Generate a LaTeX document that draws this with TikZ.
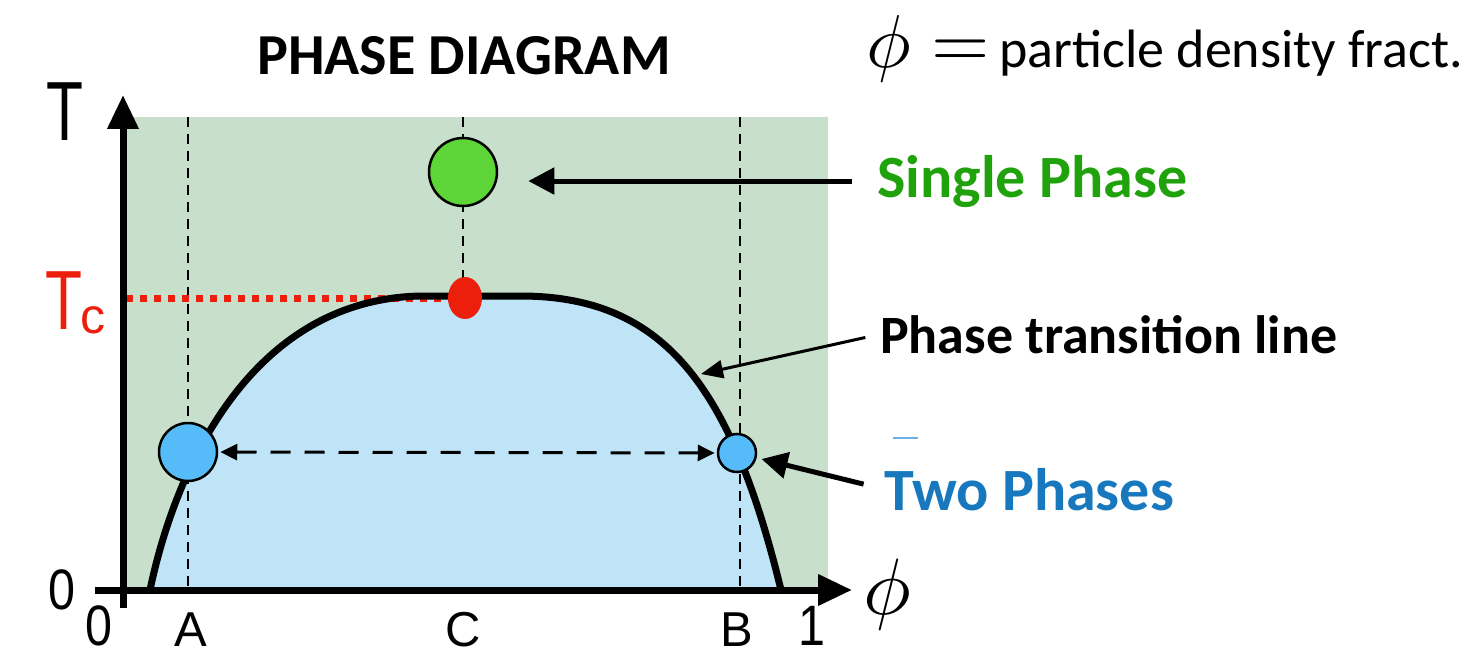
\documentclass[tikz,border=0pt]{standalone}
\usepackage{fontspec}
\setmainfont{Carlito}
\newfontfamily\arial{Liberation Sans}
\usetikzlibrary{arrows.meta,calc,shapes.geometric}
\definecolor{bggreen}{RGB}{200,223,203}
\definecolor{fillblue}{RGB}{191,228,248}
\definecolor{circblue}{RGB}{85,187,249}
\definecolor{circgreen}{RGB}{93,213,54}
\definecolor{dotred}{RGB}{236,30,12}
\definecolor{txtgreen}{RGB}{31,162,11}
\definecolor{txtblue}{RGB}{24,120,190}
\definecolor{faintblue}{RGB}{110,175,225}
\begin{document}
\begin{tikzpicture}[x=1pt,y=-1pt,
  axis/.style={line width=7pt,-{Triangle[length=34pt,width=30pt]}},
  guide/.style={line width=1.8pt,dash pattern=on 10pt off 7pt},
  callout/.style={line width=5pt,-{Triangle[length=26pt,width=26pt]}},
  lbl/.style={font=\fontsize{60}{60}\selectfont\bfseries, anchor=base west, inner sep=0pt},
  ax/.style={font=\arial\fontsize{49}{49}\selectfont, inner sep=0pt},
  axbig/.style={font=\arial\fontsize{57}{57}\selectfont, inner sep=0pt},
  ball/.style={circle, draw=black, line width=2.5pt, inner sep=0pt},
]
\useasboundingbox (0,0) rectangle (1481,658);
% phase boundary path
\def\boundary{(150,590) .. controls (175,470) and (250,300) .. (420,296) -- (520,296) .. controls (660,296) and (730,380) .. (781,590)}
% background
\fill[bggreen] (126,117) rectangle (828,590);
\fill[fillblue] \boundary -- cycle;
% guides
\coordinate (gAtop) at (188,117); \coordinate (gAbot) at (188,590);
\coordinate (gBtop) at (740,117); \coordinate (gBbot) at (740,590);
\coordinate (gCtop) at (463,117); \coordinate (gCbot) at (463,292);
\draw[guide] (gAtop) -- (gAbot);
\draw[guide] (gBtop) -- (gBbot);
\draw[guide] (gCtop) -- (gCbot);
% Tc dotted line
\coordinate (tcL) at (126,298);
\coordinate (tcR) at (458,298);
\draw[dotred, line width=7pt, dash pattern=on 7pt off 7pt] (tcL) -- (tcR);
% curve
\draw[line width=7pt] \boundary;
% axes
\coordinate (yB) at (123,608); \coordinate (yT) at (123,95);
\coordinate (xL) at (95,590); \coordinate (xR) at (852,590);
\draw[axis] (yB) -- (yT);
\draw[axis] (xL) -- (xR);
% markers
\node[ellipse, fill=dotred, minimum width=34pt, minimum height=42pt, inner sep=0pt] (tc) at (465,298) {};
\node[ball, fill=circgreen, minimum size=68pt] (single) at (463,172) {};
\node[ball, fill=circblue, minimum size=58pt] (circA) at (188,452) {};
\node[ball, fill=circblue, minimum size=38pt] (circB) at (737,453) {};
\draw[line width=3pt, dash pattern=on 20pt off 14pt, {Triangle[length=17pt,width=16pt]}-{Triangle[length=17pt,width=16pt]}, shorten <=2pt, shorten >=2pt] (circA) -- (circB);
% titles
\node[font=\fontsize{58}{58}\selectfont\bfseries, anchor=base, inner sep=0pt] (title) at (464,75) {PHASE DIAGRAM};
\node[anchor=base west, inner sep=0pt] (phieq) at (866,68) {\scalebox{7.5}{$\phi =$}};
\node[anchor=base west, inner sep=0pt, font=\fontsize{54}{54}\selectfont] (pdf) at (999,68) {particle density fract.};
% callout labels
\node[lbl, text=txtgreen] (sp) at (877,197) {Single Phase};
\node[lbl, font=\fontsize{54}{54}\selectfont\bfseries] (ptl) at (880,353) {Phase transition line};
\node[lbl, text=txtblue] (tp) at (884,510) {Two Phases};
\coordinate (ptlTip) at (701,374);
\draw[callout, shorten <=25pt, shorten >=30pt] (sp.west) -- (sp.west -| single.east);
\draw[line width=3pt, -{Triangle[length=22pt,width=18pt]}, shorten <=15pt] (ptl.west) -- (ptlTip);
\draw[callout, shorten <=21pt, shorten >=5pt] (tp.west) -- (circB);
\coordinate (bl1) at (893,438); \coordinate (bl2) at (918,438);
\draw[faintblue, line width=2pt] (bl1) -- (bl2);
% axis labels
\node[font=\arial\fontsize{84}{84}\selectfont, inner sep=0pt] (Tlab) at (65,112) {\scalebox{0.72}[1]{T}};
\node[font=\arial\fontsize{84}{84}\selectfont, inner sep=0pt, text=dotred] (Tc) at (64,301) {\scalebox{0.72}[1]{T}};
\node[font=\arial\fontsize{50}{50}\selectfont, inner sep=0pt, text=dotred] (Tcsub) at (93,320) {c};
\node[axbig] (zeroY) at (62,590) {\scalebox{0.85}[1]{0}};
\node[axbig] (zeroX) at (99,626) {\scalebox{0.85}[1]{0}};
\node[axbig] (one) at (812,626) {\scalebox{0.85}[1]{1}};
\node[ax] (labA) at (191,630) {A};
\node[ax] (labC) at (463,630) {C};
\node[ax] (labB) at (737,630) {B};
\node[inner sep=0pt] (phiax) at (887,594) {\scalebox{8}{$\phi$}};
\end{tikzpicture}
\end{document}
